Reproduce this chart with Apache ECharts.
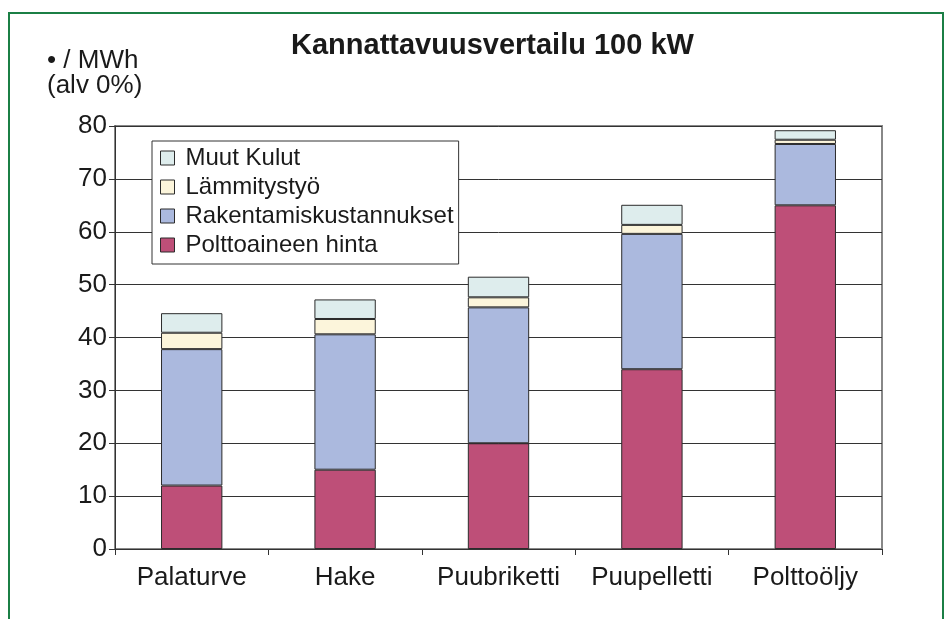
<!DOCTYPE html>
<html>
<head>
<meta charset="utf-8">
<script src="https://cdn.jsdelivr.net/npm/echarts@6/dist/echarts.min.js"></script>
<style>
html,body{margin:0;padding:0;background:#fff;}
#chart{width:952px;height:619px;}
</style>
</head>
<body>
<div id="chart"></div>
<script>
var categories = ['Palaturve', 'Hake', 'Puubriketti', 'Puupelletti', 'Polttoöljy'];
var polttoaineenHinta = [12, 15, 20, 34, 65];
var rakentamiskustannukset = [25.8, 25.6, 25.7, 25.6, 11.6];
var lammitystyo = [3.1, 2.9, 1.9, 1.7, 0.8];
var muutKulut = [3.7, 3.7, 3.9, 3.8, 1.8];
var yTicks = [0, 10, 20, 30, 40, 50, 60, 70, 80];

var FONT = '"Liberation Sans", Arial, sans-serif';
var chart = echarts.init(document.getElementById('chart'));

function bar(name, data, color) {
  return {
    name: name,
    type: 'bar',
    stack: 'total',
    data: data,
    barWidth: '40%',
    itemStyle: { color: color, borderColor: '#2b2b2b', borderWidth: 1 }
  };
}

chart.setOption({
  animation: false,
  backgroundColor: '#fff',
  title: {
    text: 'Kannattavuusvertailu 100 kW',
    left: 286,
    top: 26,
    textStyle: { fontFamily: FONT, fontSize: 29, fontWeight: 'bold', color: '#1a1a1a' }
  },
  graphic: [
    {
      type: 'rect',
      shape: { x: 9, y: 13, width: 934, height: 700 },
      style: { fill: 'none', stroke: '#1b7f45', lineWidth: 2 },
      silent: true
    },
    {
      type: 'text',
      left: 47,
      top: 48,
      style: {
        text: '• / MWh\n(alv 0%)',
        font: '26px ' + FONT,
        fill: '#1a1a1a',
        lineHeight: 25
      }
    }
  ],
  legend: {
    orient: 'vertical',
    left: 152,
    top: 141,
    itemWidth: 14,
    itemHeight: 14,
    itemGap: 5,
    padding: [5, 5, 7, 8],
    backgroundColor: '#fff',
    borderColor: '#333',
    borderWidth: 1,
    icon: 'rect',
    itemStyle: { borderColor: '#2b2b2b', borderWidth: 1 },
    textStyle: { fontFamily: FONT, fontSize: 24, lineHeight: 24, color: '#1a1a1a', padding: [0, 0, 0, 6] },
    data: ['Muut Kulut', 'Lämmitystyö', 'Rakentamiskustannukset', 'Polttoaineen hinta']
  },
  grid: {
    left: 115,
    right: 70,
    top: 126,
    bottom: 70,
    show: true,
    borderColor: '#888',
    borderWidth: 2,
    backgroundColor: 'transparent'
  },
  xAxis: {
    type: 'category',
    data: categories,
    axisLine: { lineStyle: { color: '#333', width: 1 } },
    axisTick: { show: true, interval: 0, length: 6, lineStyle: { color: '#333' } },
    axisLabel: { interval: 0, fontFamily: FONT, fontSize: 26, color: '#1a1a1a', margin: 16 }
  },
  yAxis: {
    type: 'value',
    min: 0,
    max: 80,
    interval: 10,
    axisLine: { show: true, lineStyle: { color: '#333', width: 1 } },
    axisTick: { show: true, length: 6, lineStyle: { color: '#333' } },
    axisLabel: { fontFamily: FONT, fontSize: 26, color: '#1a1a1a', margin: 8 },
    splitLine: { show: true, lineStyle: { color: '#333', width: 1 } }
  },
  series: [
    bar('Polttoaineen hinta', polttoaineenHinta, '#be4f78'),
    bar('Rakentamiskustannukset', rakentamiskustannukset, '#abb9de'),
    bar('Lämmitystyö', lammitystyo, '#fcf5db'),
    bar('Muut Kulut', muutKulut, '#deeded')
  ]
});
</script>
</body>
</html>
